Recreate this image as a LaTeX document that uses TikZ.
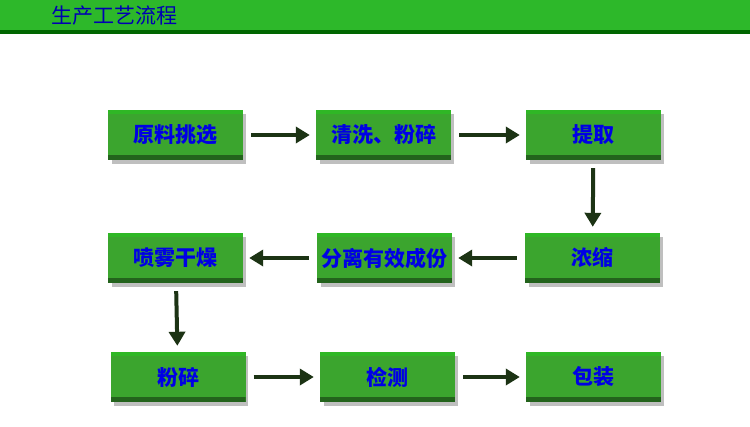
\documentclass[tikz,border=0pt]{standalone}
\usepackage{fontspec}
\newfontfamily\cjk{Noto Sans CJK SC}
\usetikzlibrary{arrows.meta}
\definecolor{boxg}{HTML}{3BA52E}
\definecolor{hdr}{HTML}{2DB82A}
\definecolor{arr}{HTML}{1C3314}
\begin{document}
\begin{tikzpicture}[x=1pt,y=-1pt,
 box/.style={draw=none,fill=boxg,minimum width=135pt,minimum height=50pt,inner sep=0pt,
   font=\cjk\bfseries\fontsize{21}{21}\selectfont,text=blue!90!black,
   path picture={\fill[green!20!boxg] (path picture bounding box.north west) rectangle ([yshift=-4pt]path picture bounding box.north east);
     \fill[black!40!boxg] (path picture bounding box.south west) rectangle ([yshift=5pt]path picture bounding box.south east);}},
 ar/.style={-{Triangle[length=14pt,width=16pt]},line width=4pt,draw=arr,shorten >=6pt,shorten <=8pt}]
\useasboundingbox (0,0) rectangle (750,426);
\fill[hdr] (0,0) rectangle (750,30);
\fill[green!40!black] (0,30) rectangle (750,34);
\node[anchor=west,font=\cjk\fontsize{21}{21}\selectfont,text=blue!70!black] (t) at (48,16) {生产工艺流程};
\foreach \x/\y in {175.5/135,383.5/135,593.5/135,592.5/258,384.5/258,175.5/258,178/377,387.5/377,593.5/377}
  \fill[black!25] (\x-64,\y-21) rectangle (\x+70,\y+29);
\node[box] (a) at (175.5,135) {原料挑选};
\node[box] (b) at (383.5,135) {清洗、粉碎};
\node[box] (c) at (593.5,135) {提取};
\node[box] (d) at (592.5,258) {浓缩};
\node[box] (e) at (384.5,258) {分离有效成份};
\node[box] (f) at (175.5,258) {喷雾干燥};
\node[box] (g) at (178,377) {粉碎};
\node[box] (h) at (387.5,377) {检测};
\node[box] (i) at (593.5,377) {包装};
\draw[ar] (a) -- (b);
\draw[ar] (b) -- (c);
\draw[ar] (c) -- (d);
\draw[ar] (d) -- (e);
\draw[ar] (e) -- (f);
\draw[ar] (f) -- (g);
\draw[ar] (g) -- (h);
\draw[ar] (h) -- (i);
\end{tikzpicture}
\end{document}
